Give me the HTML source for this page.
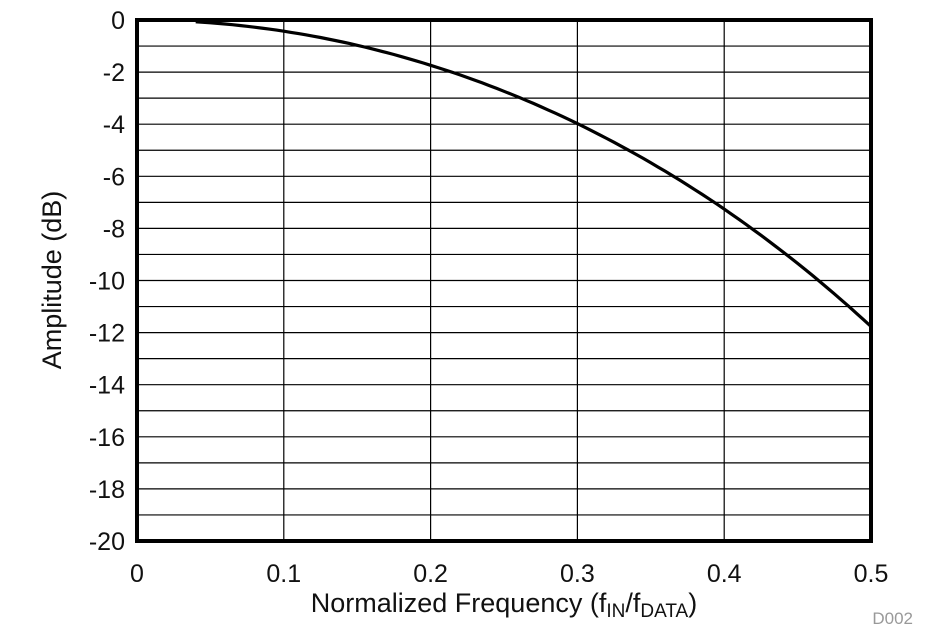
<!DOCTYPE html>
<html><head><meta charset="utf-8"><style>
body{margin:0;background:#fff;width:940px;height:638px;overflow:hidden}
svg{display:block}
text{font-family:"Liberation Sans",Arial,sans-serif;fill:#111}
</style></head><body>
<svg id="s" width="940" height="638" viewBox="0 0 940 638">
<g id="grid" stroke="#000" stroke-width="1.2"></g>
<path id="c" fill="none" stroke="#000" stroke-width="3.2"/>
<rect x="137" y="20" width="734" height="521" fill="none" stroke="#000" stroke-width="4"/>
<g id="lab" font-size="25"></g>
<text x="504" y="612" font-size="27" text-anchor="middle">Normalized Frequency (f<tspan font-size="19" dy="5">IN</tspan><tspan dy="-5">/f</tspan><tspan font-size="19" dy="5">DATA</tspan><tspan dy="-5">)</tspan></text>
<text transform="translate(61,280) rotate(-90)" font-size="27" text-anchor="middle">Amplitude (dB)</text>
<text x="913" y="624" font-size="17" text-anchor="end" style="fill:#999">D002</text>
</svg>
<script>
var L=137,R=871,T=20,B=541,ns="http://www.w3.org/2000/svg";
var g=document.getElementById('grid'),lab=document.getElementById('lab');
function el(p,t,a){var e=document.createElementNS(ns,t);for(var k in a)e.setAttribute(k,a[k]);p.appendChild(e);return e;}
for(var i=1;i<20;i++){var y=T+(B-T)*i/20;el(g,'line',{x1:L,x2:R,y1:y,y2:y});}
for(var i=1;i<5;i++){var x=L+(R-L)*i/5;el(g,'line',{x1:x,x2:x,y1:T,y2:B});}
for(var i=0;i<=10;i++){var y=T+(B-T)*i/10;var t=el(lab,'text',{x:125,y:y+9,'text-anchor':'end'});t.textContent=i==0?'0':'-'+(2*i);}
for(var i=0;i<=5;i++){var x=L+(R-L)*i/5;var t=el(lab,'text',{x:x,y:582,'text-anchor':'middle'});t.textContent=i==0?'0':(i/10).toString();}
var d='';for(var f=0.04;f<=0.5001;f+=0.005){var s=Math.sin(Math.PI*f)/(Math.PI*f);var db=60*Math.log10(s);var x=L+(R-L)*f/0.5,y=T+(B-T)*(-db)/20;d+=(d?'L':'M')+x.toFixed(1)+','+y.toFixed(1);}
document.getElementById('c').setAttribute('d',d);
</script>
</body></html>
